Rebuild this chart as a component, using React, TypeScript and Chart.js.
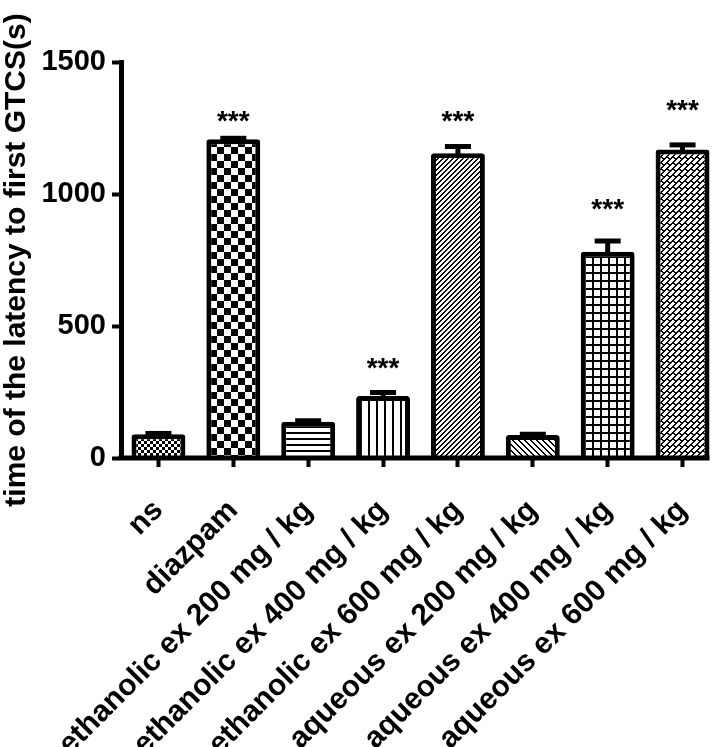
import React, { useEffect, useRef } from "react";
import { Chart, registerables } from "chart.js";

Chart.register(...registerables);

const categories = [
  "ns",
  "diazpam",
  "ethanolic ex 200 mg / kg",
  "ethanolic ex 400 mg / kg",
  "ethanolic ex 600 mg / kg",
  "aqueous ex 200 mg / kg",
  "aqueous ex 400 mg / kg",
  "aqueous ex 600 mg / kg",
];
const means = [90, 1207, 137, 235, 1154, 87, 781, 1169];
const errors = [3, 4, 4, 13, 26, 3, 41, 17];
const significance = ["", "***", "", "***", "***", "", "***", "***"];
const starValues = [0, 1288, 0, 352, 1288, 0, 955, 1330];
const yTicks = [0, 500, 1000, 1500];
const yTitle = "time of the latency to first GTCS(s)";

const FAMILY = "'Liberation Sans', Arial, Helvetica, sans-serif";

function pixelPattern(w: number, h: number, on: (x: number, y: number) => boolean): CanvasPattern {
  const c = document.createElement("canvas");
  c.width = w;
  c.height = h;
  const g = c.getContext("2d")!;
  const img = g.createImageData(w, h);
  for (let y = 0; y < h; y++) {
    for (let x = 0; x < w; x++) {
      const v = on(x, y) ? 0 : 255;
      const i = (y * w + x) * 4;
      img.data[i] = v;
      img.data[i + 1] = v;
      img.data[i + 2] = v;
      img.data[i + 3] = 255;
    }
  }
  g.putImageData(img, 0, 0);
  return g.createPattern(c, "repeat")!;
}

const mod = (a: number, n: number) => ((a % n) + n) % n;

function makePatterns(): CanvasPattern[] {
  return [
    // fine checker
    pixelPattern(6, 6, (x, y) => (Math.floor(x / 3) + Math.floor(y / 3)) % 2 === 1),
    // coarse checker
    pixelPattern(14, 14, (x, y) => (Math.floor(x / 7) + Math.floor(y / 7)) % 2 === 0),
    // horizontal lines
    pixelPattern(6, 6, (_x, y) => y < 2),
    // vertical lines
    pixelPattern(8, 8, (x) => x < 2),
    // "/" diagonal
    pixelPattern(5, 5, (x, y) => mod(x + y, 5) < 2),
    // "\" diagonal
    pixelPattern(6, 6, (x, y) => mod(x - y, 6) < 2),
    // grid
    pixelPattern(8, 8, (x, y) => x < 2 || y < 2),
    // diagonal bricks
    pixelPattern(12, 12, (x, y) => {
      const s = mod(x + y, 12);
      if (mod(s, 6) < 2) return true;
      const row = s < 6 ? 0 : 1;
      return mod(x - y + row * 6, 12) < 2;
    }),
  ];
}

export default function App() {
  const ref = useRef<HTMLCanvasElement | null>(null);

  useEffect(() => {
    const canvas = ref.current;
    if (!canvas) return;
    const patterns = makePatterns();

    const overlay = {
      id: "overlay",
      afterDatasetsDraw(chart: any) {
        const ctx = chart.ctx as CanvasRenderingContext2D;
        const yScale = chart.scales.y;
        const area = chart.chartArea;
        const meta = chart.getDatasetMeta(0);
        ctx.save();
        // error bars
        ctx.strokeStyle = "#000";
        ctx.lineWidth = 5;
        ctx.lineCap = "butt";
        meta.data.forEach((bar: any, i: number) => {
          const yTop = yScale.getPixelForValue(means[i] + errors[i]);
          ctx.beginPath();
          ctx.moveTo(bar.x, bar.y + 2);
          ctx.lineTo(bar.x, yTop);
          ctx.stroke();
          ctx.beginPath();
          ctx.moveTo(bar.x - 13, yTop);
          ctx.lineTo(bar.x + 13, yTop);
          ctx.stroke();
        });
        // x axis line
        const last = meta.data[meta.data.length - 1] as any;
        ctx.beginPath();
        ctx.moveTo(area.left - 2.5, area.bottom);
        ctx.lineTo(last.x + last.width / 2, area.bottom);
        ctx.stroke();
        // significance stars
        ctx.fillStyle = "#000";
        ctx.font = `bold 28px ${FAMILY}`;
        ctx.textAlign = "center";
        ctx.textBaseline = "alphabetic";
        meta.data.forEach((bar: any, i: number) => {
          if (!significance[i]) return;
          const cy = yScale.getPixelForValue(starValues[i]);
          ctx.fillText(significance[i], bar.x, cy + 12);
        });
        ctx.restore();
      },
    };

    const chart = new Chart(canvas, {
      type: "bar",
      data: {
        labels: categories,
        datasets: [
          {
            data: means,
            backgroundColor: patterns as any,
            borderColor: "#000",
            borderWidth: 5,
            borderRadius: 3,
            borderSkipped: "start",
            barPercentage: 0.72,
            categoryPercentage: 1,
          },
        ],
      },
      options: {
        responsive: false,
        animation: false,
        devicePixelRatio: 1,
        layout: { padding: { top: 62, right: 0, left: 0, bottom: 0 } },
        plugins: {
          legend: { display: false },
          tooltip: { enabled: false },
        },
        scales: {
          x: {
            grid: {
              display: true,
              drawOnChartArea: false,
              offset: false,
              tickLength: 9,
              tickWidth: 4,
              tickColor: "#000",
            },
            border: { display: false },
            ticks: {
              minRotation: 45,
              maxRotation: 45,
              autoSkip: false,
              color: "#000",
              padding: 26,
              font: { family: FAMILY, size: 30, weight: "bold" },
            },
            afterFit: (s: any) => {
              s.height = 289;
              s.paddingLeft = 0;
              s.paddingRight = 0;
            },
          },
          y: {
            min: 0,
            max: 1500,
            afterBuildTicks: (s: any) => {
              s.ticks = yTicks.map((v) => ({ value: v }));
            },
            grid: {
              display: true,
              drawOnChartArea: false,
              tickLength: 9,
              tickWidth: 4,
              tickColor: "#000",
            },
            border: { display: true, color: "#000", width: 5 },
            ticks: {
              color: "#000",
              padding: 6,
              callback: (v: any) => String(v),
              font: { family: FAMILY, size: 29, weight: "bold" },
            },
            title: {
              display: true,
              text: yTitle,
              color: "#000",
              padding: { top: 0, bottom: 0 },
              font: { family: FAMILY, size: 30, weight: "bold", lineHeight: 1.1 },
            },
            afterFit: (s: any) => {
              s.width = 121;
              s.paddingTop = 0;
              s.paddingBottom = 0;
            },
          },
        },
      },
      plugins: [overlay],
    });
    return () => chart.destroy();
  }, []);

  return (
    <div
      style={{
        position: "absolute",
        left: 0,
        top: 0,
        width: 720,
        height: 747,
        overflow: "hidden",
        background: "#fff",
      }}
    >
      <canvas ref={ref} width={720} height={747} style={{ width: 720, height: 747, display: "block" }} />
    </div>
  );
}
